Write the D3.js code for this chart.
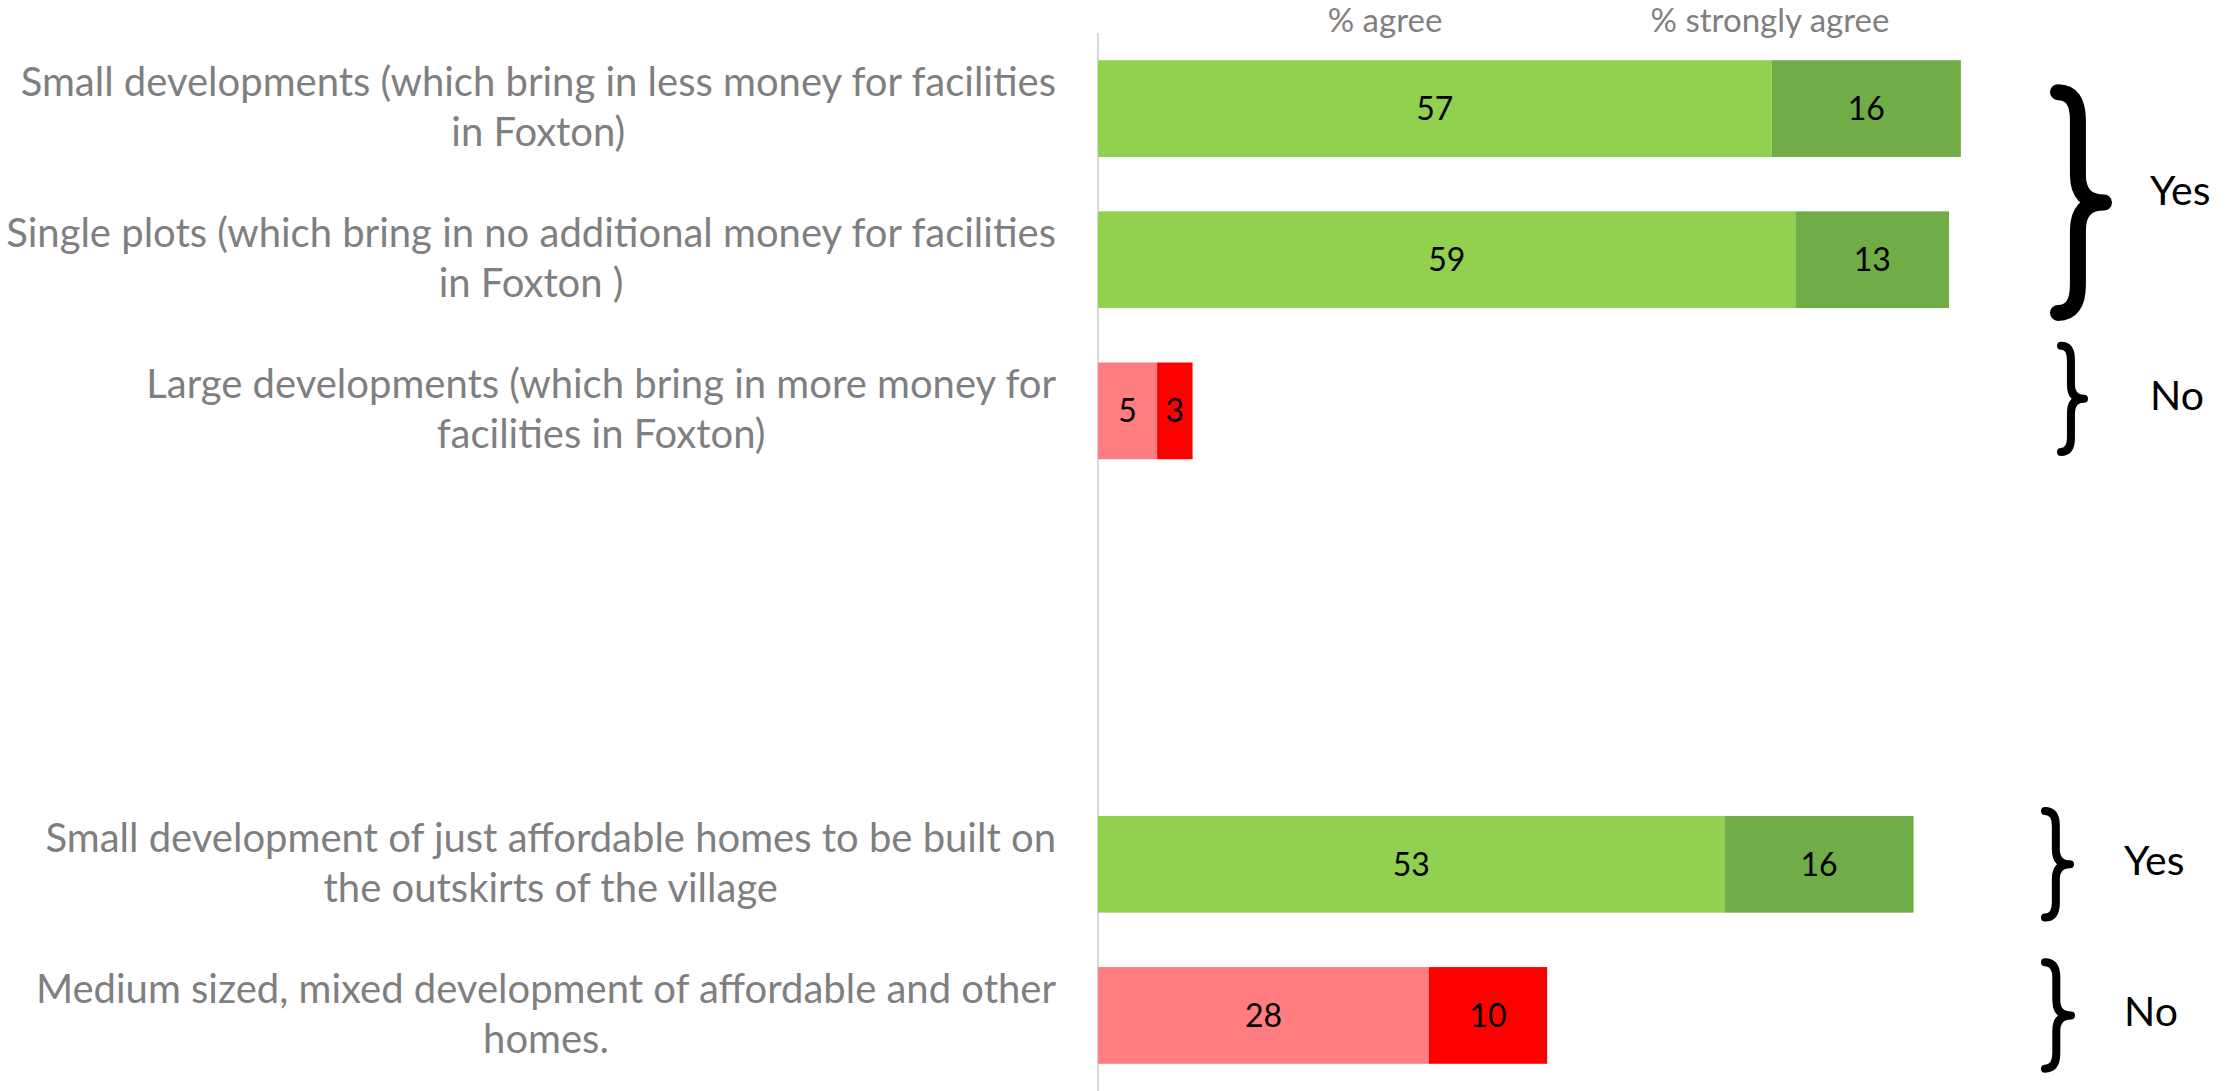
<!DOCTYPE html>
<html>
<head>
<meta charset="utf-8">
<script src="https://cdn.jsdelivr.net/npm/d3@7"></script>
<style>
  body { margin: 0; background: #fff; }
  svg { display: block; }
  text { font-family: "Lato", sans-serif; }
</style>
</head>
<body>
<svg id="chart" width="2228" height="1091"></svg>
<script>
'use strict'
//类别标签(每行一段)，空行留作分组间隔
var categories = [
    ["Small developments (which bring in less money for facilities", "in Foxton)"],
    ["Single plots (which bring in no additional money for facilities", "in Foxton )"],
    ["Large developments (which bring in more money for", "facilities in Foxton)"],
    [],
    [],
    ["Small development of just affordable homes to be built on", "the outskirts of the village"],
    ["Medium sized, mixed development of affordable and other", "homes."]
];
var agree = [57, 59, 5, null, null, 53, 28];
var stronglyAgree = [16, 13, 3, null, null, 16, 10];
var verdict = ["yes", "yes", "no", null, null, "yes", "no"];
var seriesNames = ["% agree", "% strongly agree"];
//分组括号: 起止行 + 文字
var groupRows = [[0, 1], [2, 2], [5, 5], [6, 6]];
var groupLabels = ["Yes", "No", "Yes", "No"];

var colors = {
    yes: ["#92D050", "#70AD47"],
    no: ["#FF7C80", "#FF0000"]
};

var svg = d3.select("#chart");
var axisX = 1098;

var x = d3.scaleLinear().domain([0, 80]).range([axisX, axisX + 80 * 11.82]);
var y = d3.scaleBand()
    .domain(d3.range(categories.length))
    .range([33, 1091])
    .paddingInner(0.36)
    .paddingOuter(0.18);
var bw = y.bandwidth();

//准备堆叠数据
var rows = d3.range(categories.length).filter(function (i) { return agree[i] != null; })
    .map(function (i) { return { i: i, v: [agree[i], stronglyAgree[i]], kind: verdict[i] }; });

//纵轴线
svg.append("line")
    .attr("x1", axisX).attr("x2", axisX)
    .attr("y1", 33).attr("y2", 1091)
    .attr("stroke", "#d9d9d9")
    .attr("stroke-width", 2);

var gBars = svg.append("g");
rows.forEach(function (r) {
    var start = 0;
    r.v.forEach(function (val, k) {
        gBars.append("rect")
            .attr("x", x(start))
            .attr("y", y(r.i))
            .attr("width", x(start + val) - x(start))
            .attr("height", bw)
            .attr("fill", colors[r.kind][k]);
        gBars.append("text")
            .attr("x", (x(start) + x(start + val)) / 2)
            .attr("y", y(r.i) + bw / 2)
            .attr("dy", "0.36em")
            .attr("text-anchor", "middle")
            .attr("font-size", 32)
            .attr("fill", "#000")
            .text(val);
        start += val;
    });
});

//表头(系列名)
var headerX = [1385, 1770];
seriesNames.forEach(function (name, k) {
    svg.append("text")
        .attr("x", headerX[k])
        .attr("y", 32)
        .attr("text-anchor", "middle")
        .attr("font-size", 33)
        .attr("fill", "#7f7f7f")
        .text(name);
});

//类别标签，多行居中，整体右对齐
var labelRight = 1056;
var lineH = 50;
var gLab = svg.append("g");
categories.forEach(function (lines, i) {
    if (!lines.length) return;
    var cy = y(i) + bw / 2 - 2;
    var g = gLab.append("g");
    var texts = lines.map(function (s, j) {
        return g.append("text")
            .attr("y", cy + (j - (lines.length - 1) / 2) * lineH)
            .attr("dy", "0.36em")
            .attr("text-anchor", "middle")
            .attr("font-size", 40)
            .attr("fill", "#7f7f7f")
            .text(s);
    });
    var w = d3.max(texts, function (t) { return t.node().getComputedTextLength(); });
    texts.forEach(function (t) { t.attr("x", labelRight - w / 2); });
});

//括号
var braceStyle = [
    { x: 2050, w: 62, sw: 16, tx: 2150, dy: 0 },
    { x: 2057, w: 31, sw: 8, tx: 2150, dy: -12 },
    { x: 2041, w: 33, sw: 8, tx: 2124, dy: 0 },
    { x: 2041, w: 34, sw: 8, tx: 2124, dy: 0 }
];
groupRows.forEach(function (gr, k) {
    var st = braceStyle[k];
    var n = gr[1] - gr[0] + 1;
    var y0 = y(gr[0]) + (n > 1 ? bw * 0.33 : -bw * 0.05) + st.dy;
    var y1 = y(gr[1]) + bw * 1.05 + st.dy;
    var ym = (y0 + y1) / 2;
    var x0 = st.x + st.sw / 2, xm = st.x + st.w * 0.45, x1 = st.x + st.w - st.sw / 2;
    var h = Math.min(st.w * 0.45, (y1 - y0) / 6);
    var p = d3.path();
    p.moveTo(x0, y0);
    p.quadraticCurveTo(xm, y0, xm, y0 + h);
    p.lineTo(xm, ym - h);
    p.quadraticCurveTo(xm, ym, x1, ym);
    p.quadraticCurveTo(xm, ym, xm, ym + h);
    p.lineTo(xm, y1 - h);
    p.quadraticCurveTo(xm, y1, x0, y1);
    svg.append("path")
        .attr("d", p.toString())
        .attr("fill", "none")
        .attr("stroke", "#000")
        .attr("stroke-width", st.sw)
        .attr("stroke-linecap", "round")
        .attr("stroke-linejoin", "round");
    svg.append("text")
        .attr("x", st.tx)
        .attr("y", ym - (n > 1 ? 12 : 4))
        .attr("dy", "0.36em")
        .attr("font-size", 41)
        .attr("fill", "#000")
        .text(groupLabels[k]);
});
</script>
</body>
</html>
